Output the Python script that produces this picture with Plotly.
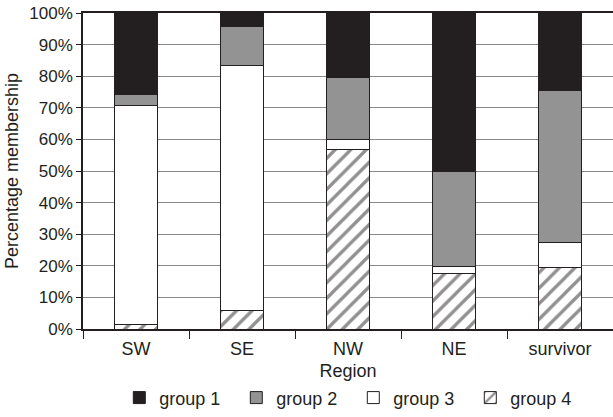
import plotly.graph_objects as go

regions = ["SW", "SE", "NW", "NE", "survivor"]
group1 = [0.258, 0.043, 0.205, 0.502, 0.244]
group2 = [0.034, 0.124, 0.194, 0.301, 0.483]
group3 = [0.693, 0.773, 0.032, 0.021, 0.078]
group4 = [0.015, 0.060, 0.569, 0.176, 0.195]
y_ticks = [0, 0.1, 0.2, 0.3, 0.4, 0.5, 0.6, 0.7, 0.8, 0.9, 1.0]
y_labels = ["0%", "10%", "20%", "30%", "40%", "50%", "60%", "70%", "80%", "90%", "100%"]

FONT = "Liberation Sans, Arial, Helvetica, sans-serif"
TXT = "#231f20"

fig = go.Figure()
line = dict(color="#231f20", width=1)
fig.add_trace(go.Bar(x=regions, y=group4, name="group 4",
                     marker=dict(color="white", line=line,
                                 pattern=dict(shape="/", fgcolor="#231f20", bgcolor="white",
                                              size=11, solidity=0.3))))
fig.add_trace(go.Bar(x=regions, y=group3, name="group 3",
                     marker=dict(color="white", line=line)))
fig.add_trace(go.Bar(x=regions, y=group2, name="group 2",
                     marker=dict(color="#939393", line=line)))
fig.add_trace(go.Bar(x=regions, y=group1, name="group 1",
                     marker=dict(color="#231f20", line=line)))

fig.update_layout(
    width=613, height=417,
    margin=dict(l=83, r=0, t=13, b=88),
    barmode="stack", bargap=0.59,
    plot_bgcolor="white", paper_bgcolor="white",
    font=dict(family=FONT, size=18, color=TXT),
    showlegend=True,
    legend=dict(orientation="h", traceorder="reversed",
                x=0.51, xanchor="center", y=-0.218, yanchor="middle",
                entrywidth=72, font=dict(size=18)),
)
fig.update_yaxes(range=[0, 1], tickvals=y_ticks, ticktext=y_labels,
                 tickfont=dict(size=17), automargin=False,
                 showgrid=True, gridcolor="#8a8a8a", gridwidth=1,
                 showline=True, linecolor=TXT, linewidth=1.5,
                 ticks="outside", ticklen=5, tickcolor=TXT,
                 title=dict(text="Percentage membership", standoff=6, font=dict(size=18)),
                 zeroline=False)
fig.update_xaxes(showline=True, linecolor=TXT, linewidth=1.5, mirror=True,
                 automargin=False, tickfont=dict(size=18), ticklabelstandoff=3,
                 ticks="outside", tickson="boundaries", ticklen=8, tickcolor=TXT,
                 title=dict(text="Region", standoff=6, font=dict(size=18)))

fig.write_html("out.html", config={"displayModeBar": False},
               post_script="document.body.style.margin='0';document.body.style.overflow='hidden';")
